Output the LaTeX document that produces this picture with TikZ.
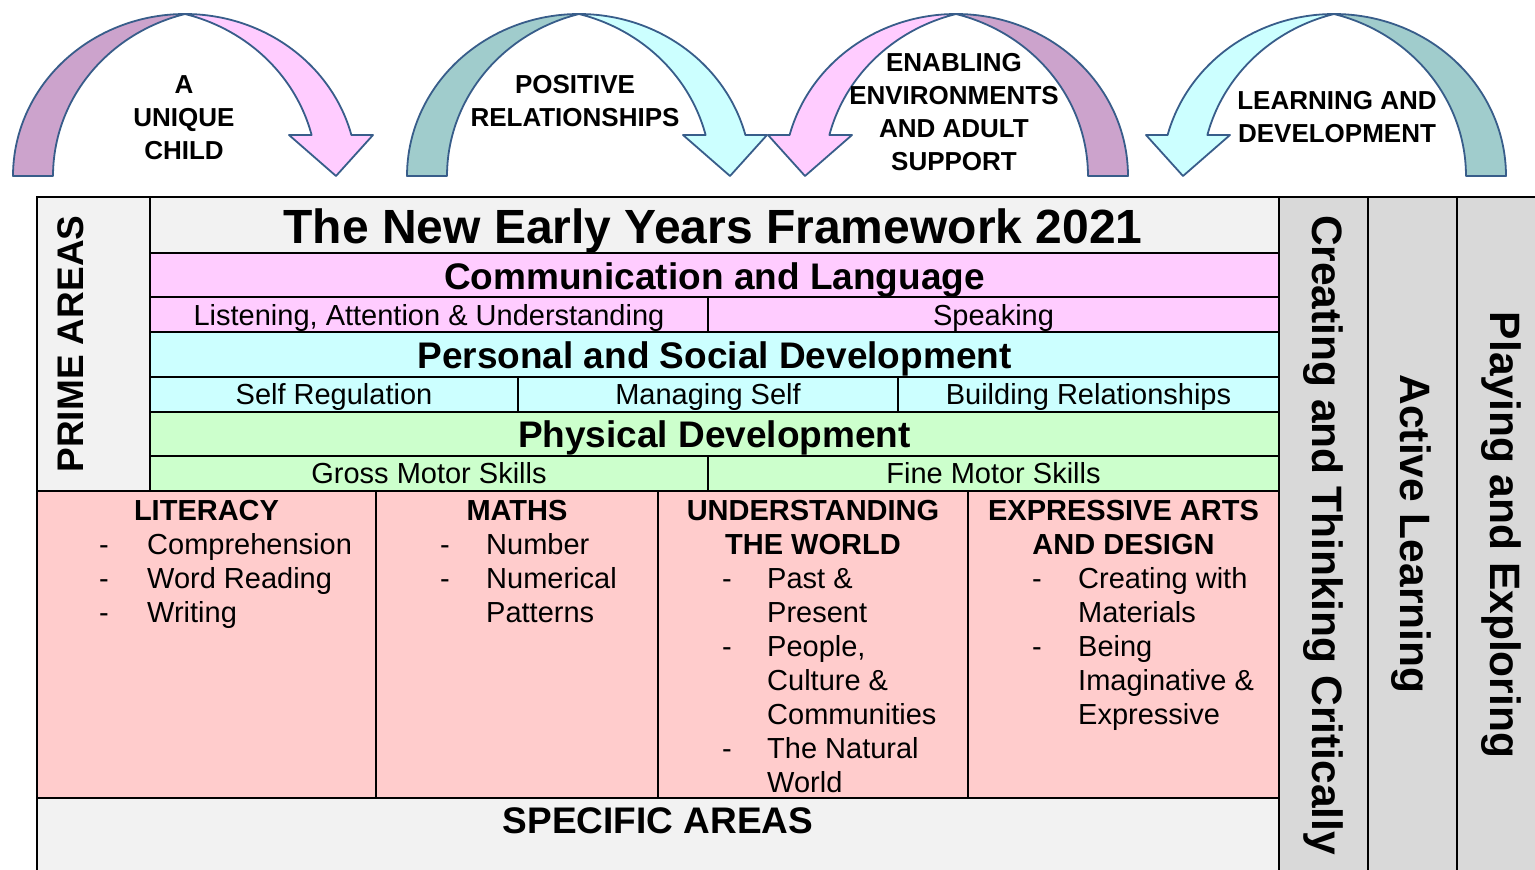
\documentclass[tikz,border=0pt]{standalone}
\usepackage{fontspec}
\setmainfont{Liberation Sans}
\definecolor{pinkL}{HTML}{FFCCFF}
\definecolor{purpD}{HTML}{CCA3CC}
\definecolor{cyanL}{HTML}{CCFFFF}
\definecolor{tealD}{HTML}{A0CCCC}
\definecolor{arrowblue}{HTML}{385D8A}
\definecolor{greyA}{HTML}{F2F2F2}
\definecolor{greyB}{HTML}{D9D9D9}
\definecolor{greenL}{HTML}{CCFFCC}
\definecolor{salmon}{HTML}{FFCCCC}
\tikzset{
  ln/.style={line width=2.2pt, draw=black},
  arrline/.style={draw=arrowblue, line width=1.8pt, line join=round},
  bigtxt/.style={font=\bfseries\fontsize{37}{40}\selectfont, inner sep=0pt, anchor=base},
  subtxt/.style={font=\fontsize{29}{34}\selectfont, inner sep=0pt, anchor=base},
  hdtxt/.style={font=\bfseries\fontsize{29}{34}\selectfont, inner sep=0pt, anchor=base},
  itemtxt/.style={font=\fontsize{29}{34}\selectfont, inner sep=0pt, anchor=base west},
  arrtxt/.style={font=\bfseries\fontsize{26}{33}\selectfont, inner sep=0pt, anchor=base},
  verttxt/.style={font=\bfseries\fontsize{42.5}{45}\selectfont, inner sep=0pt, rotate=-90, anchor=base},
}
\newcommand\arrDarkBand[1]{%
  \path[arrline, fill=#1]
    plot[domain=180:90, samples=50] ({185+172*cos(\x)}, {176-162*sin(\x)})
    -- plot[domain=104.73:180, samples=50] ({230+177*cos(\x)}, {176-167.5*sin(\x)})
    -- cycle;}
\newcommand\arrLightBand[1]{%
  \path[arrline, fill=#1]
    plot[domain=90:14.66, samples=50] ({185+172*cos(\x)}, {176-162*sin(\x)})
    -- (373,135) -- (336,176) -- (289,135)
    -- plot[domain=14.17:75.27, samples=50] ({140+177*cos(\x)}, {176-167.5*sin(\x)})
    -- cycle;}
\begin{document}
\begin{tikzpicture}[x=1pt, y=-1pt]
\useasboundingbox (0,0) rectangle (1535,870);
\fill[white] (0,0) rectangle (1535,870);

% ---------- top arrows ----------
\begin{scope}
  \arrDarkBand{purpD}
  \arrLightBand{pinkL}
\end{scope}
\begin{scope}[xshift=394pt]
  \arrDarkBand{tealD}
  \arrLightBand{cyanL}
\end{scope}
\begin{scope}[xshift=1141pt, xscale=-1]
  \arrDarkBand{purpD}
  \arrLightBand{pinkL}
\end{scope}
\begin{scope}[xshift=1519pt, xscale=-1]
  \arrDarkBand{tealD}
  \arrLightBand{cyanL}
\end{scope}

\node[arrtxt] (a1) at (184,93) {A};
\node[arrtxt] (a2) at (184,126) {UNIQUE};
\node[arrtxt] (a3) at (184,159) {CHILD};
\node[arrtxt] (b1) at (575,93) {POSITIVE};
\node[arrtxt] (b2) at (575,126) {RELATIONSHIPS};
\node[arrtxt] (c1) at (954,71) {ENABLING};
\node[arrtxt] (c2) at (954,104) {ENVIRONMENTS};
\node[arrtxt] (c3) at (954,137) {AND ADULT};
\node[arrtxt] (c4) at (954,170) {SUPPORT};
\node[arrtxt] (d1) at (1337,109) {LEARNING AND};
\node[arrtxt] (d2) at (1337,142) {DEVELOPMENT};

% ---------- table fills ----------
\fill[greyA] (37,197) rectangle (150,491);
\fill[greyA] (150,197) rectangle (1279,253);
\fill[pinkL] (150,253) rectangle (1279,332);
\fill[cyanL] (150,332) rectangle (1279,412);
\fill[greenL] (150,412) rectangle (1279,491);
\fill[salmon] (37,491) rectangle (1279,798);
\fill[greyA] (37,798) rectangle (1279,870);
\fill[greyB] (1279,197) rectangle (1535,870);

% ---------- table lines ----------
\draw[ln] (37,870) -- (37,197) -- (1535,197);
\draw[ln] (150,197) -- (150,491);
\foreach \yy in {253,297,332,377,412,456} \draw[ln] (150,\yy) -- (1279,\yy);
\draw[ln] (37,491) -- (1279,491);
\draw[ln] (37,798) -- (1279,798);
\foreach \xx in {1279,1368,1457} \draw[ln] (\xx,197) -- (\xx,870);
\draw[ln] (708,297) -- (708,332);
\draw[ln] (518,377) -- (518,412);
\draw[ln] (898,377) -- (898,412);
\draw[ln] (708,456) -- (708,491);
\foreach \xx in {376,658,968} \draw[ln] (\xx,491) -- (\xx,798);

% ---------- table texts ----------
\node[font=\bfseries\fontsize{48}{50}\selectfont, inner sep=0pt, anchor=base] (title) at (713,243) {The New Early Years Framework 2021};
\node[bigtxt] (cl) at (714.5,289) {Communication and Language};
\node[subtxt] (cl1) at (429,325) {Listening, Attention \& Understanding};
\node[subtxt] (cl2) at (993.5,325) {Speaking};
\node[bigtxt] (psd) at (714.5,368) {Personal and Social Development};
\node[subtxt] (psd1) at (334,404) {Self Regulation};
\node[subtxt] (psd2) at (708,404) {Managing Self};
\node[subtxt] (psd3) at (1088.5,404) {Building Relationships};
\node[bigtxt] (pd) at (714.5,447) {Physical Development};
\node[subtxt] (pd1) at (429,483) {Gross Motor Skills};
\node[subtxt] (pd2) at (993.5,483) {Fine Motor Skills};
\node[bigtxt, rotate=90] (prime) at (83.5,344) {PRIME AREAS};

% literacy
\node[hdtxt] (lit) at (206.5,520) {LITERACY};
\node[itemtxt] (litd1) at (99,554) {-};
\node[itemtxt] (litd2) at (99,588) {-};
\node[itemtxt] (litd3) at (99,622) {-};
\node[itemtxt] (lit1) at (147,554) {Comprehension};
\node[itemtxt] (lit2) at (147,588) {Word Reading};
\node[itemtxt] (lit3) at (147,622) {Writing};
% maths
\node[hdtxt] (mat) at (517,520) {MATHS};
\node[itemtxt] (matd1) at (440,554) {-};
\node[itemtxt] (matd2) at (440,588) {-};
\node[itemtxt] (mat1) at (486,554) {Number};
\node[itemtxt] (mat2) at (486,588) {Numerical};
\node[itemtxt] (mat3) at (486,622) {Patterns};
% understanding the world
\node[hdtxt] (utw) at (813,520) {UNDERSTANDING};
\node[hdtxt] (utwb) at (813,554) {THE WORLD};
\node[itemtxt] (utwd1) at (722,588) {-};
\node[itemtxt] (utwd2) at (722,656) {-};
\node[itemtxt] (utwd3) at (722,758) {-};
\node[itemtxt] (utw1) at (767,588) {Past \&};
\node[itemtxt] (utw2) at (767,622) {Present};
\node[itemtxt] (utw3) at (767,656) {People,};
\node[itemtxt] (utw4) at (767,690) {Culture \&};
\node[itemtxt] (utw5) at (767,724) {Communities};
\node[itemtxt] (utw6) at (767,758) {The Natural};
\node[itemtxt] (utw7) at (767,792) {World};
% expressive arts
\node[hdtxt] (ead) at (1123.5,520) {EXPRESSIVE ARTS};
\node[hdtxt] (eadb) at (1123.5,554) {AND DESIGN};
\node[itemtxt] (eadd1) at (1032,588) {-};
\node[itemtxt] (eadd2) at (1032,656) {-};
\node[itemtxt] (ead1) at (1078,588) {Creating with};
\node[itemtxt] (ead2) at (1078,622) {Materials};
\node[itemtxt] (ead3) at (1078,656) {Being};
\node[itemtxt] (ead4) at (1078,690) {Imaginative \&};
\node[itemtxt] (ead5) at (1078,724) {Expressive};

\node[bigtxt] (spec) at (658,833) {SPECIFIC AREAS};

% right columns
\node[verttxt] (ctc) at (1312,535) {Creating and Thinking Critically};
\node[verttxt] (al) at (1400,534) {Active Learning};
\node[verttxt] (pe) at (1490,535) {Playing and Exploring};
\end{tikzpicture}
\end{document}
